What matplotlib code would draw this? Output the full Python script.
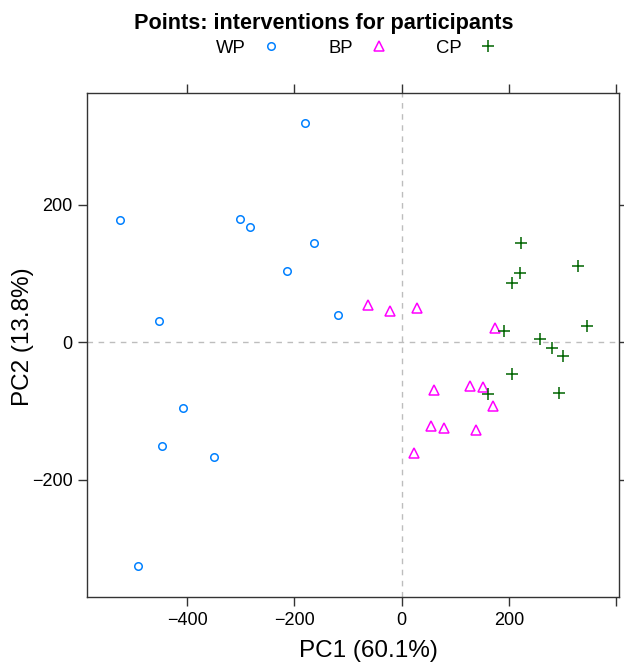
import matplotlib
matplotlib.use("Agg")
import matplotlib.pyplot as plt
from matplotlib.lines import Line2D

plt.rcParams['font.family'] = ['Liberation Sans', 'DejaVu Sans']

# ---- data ----
groups = ["WP", "BP", "CP"]
wp_pc1 = [-181, -526, -302, -282, -163, -214, -452, -119, -408, -447, -350, -491]
wp_pc2 = [318, 177, 179, 167, 144, 104, 31, 40, -96, -150, -166, -325]
bp_pc1 = [-63, -21, 29, 173, 61, 128, 151, 171, 55, 79, 139, 23]
bp_pc2 = [54, 46, 50, 21, -70, -64, -65, -93, -121, -124, -127, -161]
cp_pc1 = [222, 329, 221, 205, 345, 191, 258, 280, 301, 205, 161, 293]
cp_pc2 = [144, 111, 101, 86, 23, 17, 5, -9, -20, -46, -75, -73]
x_ticks = [-400, -200, 0, 200, 400]
x_ticklabels = ["\u2212400", "\u2212200", "0", "200", ""]
y_ticks = [-200, 0, 200]
y_ticklabels = ["\u2212200", "0", "200"]
title = "Points: interventions for participants"
xlabel = "PC1 (60.1%)"
ylabel = "PC2 (13.8%)"

colors = {"WP": "#0080ff", "BP": "#ff00ff", "CP": "#006400"}
styles = {
    "WP": dict(marker="o", ms=5.4, mew=1.1, mfc="none"),
    "BP": dict(marker="^", ms=6.8, mew=1.1, mfc="none"),
    "CP": dict(marker="+", ms=8.5, mew=1.1),
}
series = {"WP": (wp_pc1, wp_pc2), "BP": (bp_pc1, bp_pc2), "CP": (cp_pc1, cp_pc2)}

W, H = 624, 664
fig = plt.figure(figsize=(W / 100, H / 100), dpi=100)
L, R, T, B = 87, 619.3, 93, 596.7
ax = fig.add_axes([L / W, 1 - B / H, (R - L) / W, (B - T) / H])

ax.axvline(0, color="#bdbdbd", lw=1.0, ls=(0, (4, 4)), zorder=1)
ax.axhline(0, color="#bdbdbd", lw=1.0, ls=(0, (4, 4)), zorder=1)

for g in groups:
    xs, ys = series[g]
    ax.plot(xs, ys, ls="none", color=colors[g], mec=colors[g], zorder=3, **styles[g])

ax.set_xlim(-586.6, 405.6)
ax.set_ylim(-369.5, 362)

ax.set_xticks(x_ticks)
ax.set_xticklabels(x_ticklabels)
ax.set_yticks(y_ticks)
ax.set_yticklabels(y_ticklabels)

for s in ax.spines.values():
    s.set_color("#333333")
    s.set_linewidth(1.0)
ax.tick_params(axis="both", which="both", direction="out", length=6.2, width=1.0,
               color="#333333", labelsize=13, top=True, right=True,
               labeltop=False, labelright=False)
ax.tick_params(axis="x", pad=4.5)
ax.tick_params(axis="y", pad=4)

fig.text(368 / W, 1 - 656.7 / H, xlabel, ha="center", va="baseline", fontsize=17.5)
fig.text(23 / W, 1 - 337 / H, ylabel, ha="center", va="center", rotation=90, fontsize=17.5)

fig.text(324 / W, 1 - 29.3 / H, title, ha="center", va="baseline",
         fontsize=15.6, fontweight="bold")

handles = [Line2D([], [], ls="none", color=colors[g], mec=colors[g], **styles[g]) for g in groups]
fig.legend(handles, groups, loc="center", bbox_to_anchor=(356.5 / W, 1 - 48.3 / H),
           ncol=3, frameon=False, markerfirst=False, fontsize=13.3,
           handlelength=1.0, handletextpad=0.9, columnspacing=2.6, borderpad=0.0)

fig.savefig("out.png", dpi=100)
